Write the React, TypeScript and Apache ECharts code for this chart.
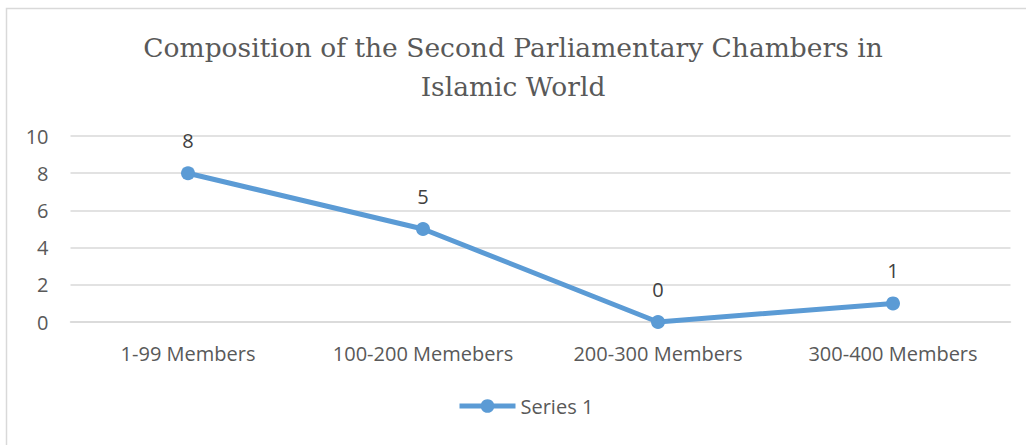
import React, { useEffect, useRef } from "react";
import * as echarts from "echarts";

const categories = ["1-99 Members", "100-200 Memebers", "200-300 Members", "300-400 Members"];
const seriesName = "Series 1";
const seriesValues = [8, 5, 0, 1];
const titleLines = ["Composition of the Second Parliamentary Chambers in", "Islamic World"];

export default function App() {
  const ref = useRef<HTMLDivElement>(null);

  useEffect(() => {
    if (!ref.current) return;
    const chart = echarts.init(ref.current, null, { renderer: "svg" });
    const sans = "'Open Sans', 'Noto Sans', sans-serif";
    chart.setOption({
      animation: false,
      backgroundColor: "#ffffff",
      title: {
        text: titleLines.join("\n"),
        left: "center",
        top: 23,
        padding: [5, 5, 5, 21],
        textStyle: {
          fontFamily: "'DejaVu Serif', 'Liberation Serif', serif",
          fontWeight: "normal",
          fontSize: 26.5,
          lineHeight: 39,
          color: "#595959",
        },
      },
      graphic: [
        {
          type: "rect",
          shape: { x: 6.5, y: 8.5, width: 1030, height: 460 },
          style: { fill: "none", stroke: "#D9D9D9", lineWidth: 1.5 },
          silent: true,
        },
      ],
      grid: { left: 70.5, right: 15.5, top: 136, bottom: 123, containLabel: false },
      legend: {
        data: [seriesName],
        top: 391,
        left: 452,
        itemWidth: 56,
        itemHeight: 17,
        lineStyle: { width: 5 },
        textStyle: { fontFamily: sans, fontSize: 20, color: "#595959" },
      },
      xAxis: {
        type: "category",
        data: categories,
        boundaryGap: true,
        axisLine: { show: true, lineStyle: { color: "#D9D9D9", width: 1.5 } },
        axisTick: { show: false },
        axisLabel: { fontFamily: sans, fontSize: 20, color: "#595959", margin: 21 },
      },
      yAxis: {
        type: "value",
        min: 0,
        max: 10,
        interval: 2,
        axisLine: { show: false },
        axisTick: { show: false },
        axisLabel: { fontFamily: sans, fontSize: 20, color: "#595959", margin: 22 },
        splitLine: { lineStyle: { color: "#D9D9D9", width: 1.5 } },
      },
      series: [
        {
          name: seriesName,
          type: "line",
          data: seriesValues,
          symbol: "circle",
          symbolSize: 14,
          lineStyle: { color: "#5B9BD5", width: 5 },
          itemStyle: { color: "#5B9BD5" },
          label: {
            show: true,
            position: "top",
            distance: 16,
            fontFamily: sans,
            fontSize: 20,
            color: "#404040",
          },
        },
      ],
    });
    return () => chart.dispose();
  }, []);

  return (
    <div
      ref={ref}
      style={{ position: "fixed", left: 0, top: 0, width: 1026, height: 445 }}
    />
  );
}
